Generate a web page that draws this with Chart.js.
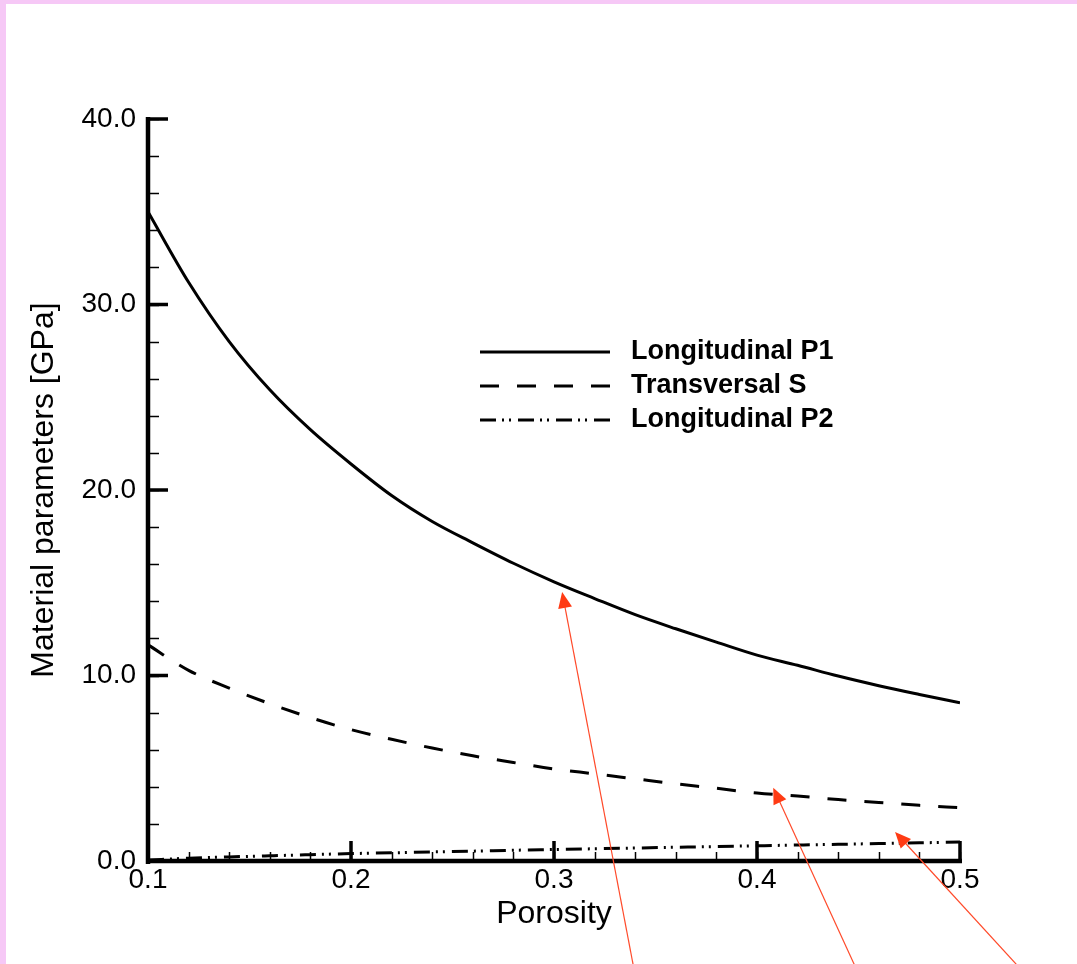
<!DOCTYPE html>
<html>
<head>
<meta charset="utf-8">
<script src="https://cdn.jsdelivr.net/npm/chart.js@4.4.1/dist/chart.umd.min.js"></script>
<style>
  html, body { margin: 0; padding: 0; background: #fff; }
  #frame { width: 1071px; height: 960px; border-top: 4px solid #f6c8f6; border-left: 6px solid #f6c8f6; background: #fff; }
  canvas { display: block; }
</style>
</head>
<body>
<div id="frame"><canvas id="myChart" width="1071" height="960"></canvas></div>
<script>
// porosity values (x)
const porosity = [0.10, 0.12, 0.14, 0.16, 0.18, 0.20, 0.22, 0.24, 0.26, 0.28, 0.30,
                  0.32, 0.34, 0.36, 0.38, 0.40, 0.42, 0.44, 0.46, 0.48, 0.50];

// material parameters [GPa]
const longitudinalP1 = [35.0, 31.2, 28.0, 25.4, 23.25, 21.4, 19.7, 18.3, 17.15, 16.05, 15.05,
                        14.15, 13.28, 12.52, 11.8, 11.1, 10.55, 9.97, 9.45, 8.98, 8.53];
const transversalS = [11.65, 10.28, 9.32, 8.48, 7.73, 7.08, 6.56, 6.09, 5.67, 5.31, 4.96,
                      4.70, 4.43, 4.16, 3.92, 3.66, 3.50, 3.31, 3.16, 3.00, 2.87];
const longitudinalP2 = [0.05, 0.15, 0.22, 0.28, 0.34, 0.40, 0.44, 0.49, 0.53, 0.58, 0.62,
                        0.66, 0.70, 0.74, 0.78, 0.82, 0.86, 0.90, 0.94, 0.98, 1.02];

const seriesLabels = ['Longitudinal P1', 'Transversal S', 'Longitudinal P2'];

// axis ticks
const xMajorTicks = [0.1, 0.2, 0.3, 0.4, 0.5];
const yMajorTicks = [0, 10, 20, 30, 40];
const xMinorStep = 0.02;
const yMinorStep = 2;

// red annotation arrows (data coords, tails run off the bottom)
const arrowTipX = [0.304, 0.408, 0.468];
const arrowTipY = [14.5, 3.95, 1.57];
const arrowTailX = [0.339, 0.448, 0.528];
const arrowTailY = [-5.6, -5.6, -5.6];

const FONT = '"Liberation Sans", Arial, sans-serif';

function pts(ys) {
    return porosity.map(function(x, i) { return {x: x, y: ys[i]}; });
}

// axes with inward ticks, drawn like the original plot
const axesPlugin = {
    id: 'axes',
    beforeDatasetsDraw(chart) {
        const ctx = chart.ctx;
        const xs = chart.scales.x, ys = chart.scales.y;
        const x0 = xs.getPixelForValue(xs.min), x1 = xs.getPixelForValue(xs.max);
        const y0 = ys.getPixelForValue(ys.min), y1 = ys.getPixelForValue(ys.max);
        ctx.save();
        ctx.strokeStyle = '#000';

        // minor ticks
        ctx.lineWidth = 1.5;
        ctx.beginPath();
        for (let v = ys.min; v <= ys.max + 1e-9; v += yMinorStep) {
            const p = Math.round(ys.getPixelForValue(v)) + 0.5;
            ctx.moveTo(x0, p); ctx.lineTo(x0 + 11, p);
        }
        for (let i = 0; xs.min + i * xMinorStep <= xs.max + 1e-9; i++) {
            const p = Math.round(xs.getPixelForValue(xs.min + i * xMinorStep)) + 0.5;
            ctx.moveTo(p, y0); ctx.lineTo(p, y0 - 9);
        }
        ctx.stroke();

        // major ticks
        ctx.lineWidth = 3.5;
        ctx.beginPath();
        yMajorTicks.forEach(function(v) {
            const p = ys.getPixelForValue(v);
            ctx.moveTo(x0, p); ctx.lineTo(x0 + 20, p);
        });
        xMajorTicks.forEach(function(v) {
            const p = xs.getPixelForValue(v);
            ctx.moveTo(p, y0); ctx.lineTo(p, y0 - 20);
        });
        ctx.stroke();

        // axis lines
        ctx.lineWidth = 4.5;
        ctx.beginPath();
        ctx.moveTo(x0, y1 - 2); ctx.lineTo(x0, y0 + 3);
        ctx.moveTo(x0 - 2, y0); ctx.lineTo(x1 + 2, y0);
        ctx.stroke();
        ctx.restore();
    },
    afterDraw(chart) {
        const ctx = chart.ctx;
        const xs = chart.scales.x, ys = chart.scales.y;
        const area = chart.chartArea;
        ctx.save();

        // legend
        const lx0 = area.left + 332, lx1 = area.left + 462, tx = area.left + 483;
        const rows = [area.top + 233, area.top + 267, area.top + 301];
        chart.data.datasets.forEach(function(ds, i) {
            ctx.strokeStyle = '#000';
            ctx.lineWidth = ds.borderWidth;
            ctx.setLineDash(ds.borderDash || []);
            ctx.beginPath();
            ctx.moveTo(lx0, rows[i]); ctx.lineTo(lx1, rows[i]);
            ctx.stroke();
            ctx.setLineDash([]);
            ctx.fillStyle = '#000';
            ctx.font = 'bold 27px ' + FONT;
            ctx.textBaseline = 'middle';
            ctx.fillText(ds.label, tx, rows[i]);
        });

        // arrows
        ctx.strokeStyle = '#ff4a2a';
        ctx.fillStyle = '#ff3b14';
        ctx.lineWidth = 1.2;
        for (let i = 0; i < arrowTipX.length; i++) {
            const tipX = xs.getPixelForValue(arrowTipX[i]), tipY = ys.getPixelForValue(arrowTipY[i]);
            const tailX = xs.getPixelForValue(arrowTailX[i]), tailY = ys.getPixelForValue(arrowTailY[i]);
            const ang = Math.atan2(tipY - tailY, tipX - tailX);
            ctx.beginPath();
            ctx.moveTo(tailX, tailY); ctx.lineTo(tipX - 10 * Math.cos(ang), tipY - 10 * Math.sin(ang));
            ctx.stroke();
            ctx.beginPath();
            ctx.moveTo(tipX, tipY);
            ctx.lineTo(tipX - 16 * Math.cos(ang) + 7 * Math.sin(ang), tipY - 16 * Math.sin(ang) - 7 * Math.cos(ang));
            ctx.lineTo(tipX - 16 * Math.cos(ang) - 7 * Math.sin(ang), tipY - 16 * Math.sin(ang) + 7 * Math.cos(ang));
            ctx.closePath();
            ctx.fill();
        }
        ctx.restore();
    }
};

let config = {
    type: 'line',
    data: {
        datasets: [
            {
                label: seriesLabels[0],
                data: pts(longitudinalP1),
                borderColor: '#000',
                borderWidth: 3,
                borderDash: [],
                cubicInterpolationMode: 'monotone'
            }, {
                label: seriesLabels[1],
                data: pts(transversalS),
                borderColor: '#000',
                borderWidth: 3,
                borderDash: [19, 18],
                cubicInterpolationMode: 'monotone'
            }, {
                label: seriesLabels[2],
                data: pts(longitudinalP2),
                borderColor: '#000',
                borderWidth: 3,
                borderDash: [16, 6, 2, 5, 2, 7],
                cubicInterpolationMode: 'monotone'
            }
        ]
    },
    options: {
        responsive: false,
        animation: false,
        layout: { padding: { left: 0, right: 117, top: 115, bottom: 0 } },
        elements: { point: { radius: 0 } },
        plugins: { legend: { display: false }, tooltip: { enabled: false } },
        scales: {
            x: {
                type: 'linear',
                min: 0.1,
                max: 0.5,
                grid: { display: false, drawTicks: false },
                border: { display: false },
                ticks: {
                    stepSize: 0.1,
                    padding: 2,
                    maxRotation: 0,
                    color: '#000',
                    font: { family: FONT, size: 28 },
                    callback: function(v) { return v.toFixed(1); }
                },
                title: {
                    display: true,
                    text: 'Porosity',
                    color: '#000',
                    font: { family: FONT, size: 32 },
                    padding: { top: 0, bottom: 31 }
                },
                afterFit: function(s) { s.height = 103; }
            },
            y: {
                min: 0,
                max: 40,
                grid: { display: false, drawTicks: false },
                border: { display: false },
                ticks: {
                    stepSize: 10,
                    padding: 12,
                    color: '#000',
                    font: { family: FONT, size: 28 },
                    callback: function(v) { return v.toFixed(1); }
                },
                title: {
                    display: true,
                    text: 'Material parameters [GPa]',
                    color: '#000',
                    font: { family: FONT, size: 32 },
                    padding: { top: 19, bottom: 0 }
                },
                afterFit: function(s) { s.width = 142; }
            }
        }
    },
    plugins: [axesPlugin]
};

let myChart = new Chart(document.getElementById('myChart'), config);
</script>
</body>
</html>
